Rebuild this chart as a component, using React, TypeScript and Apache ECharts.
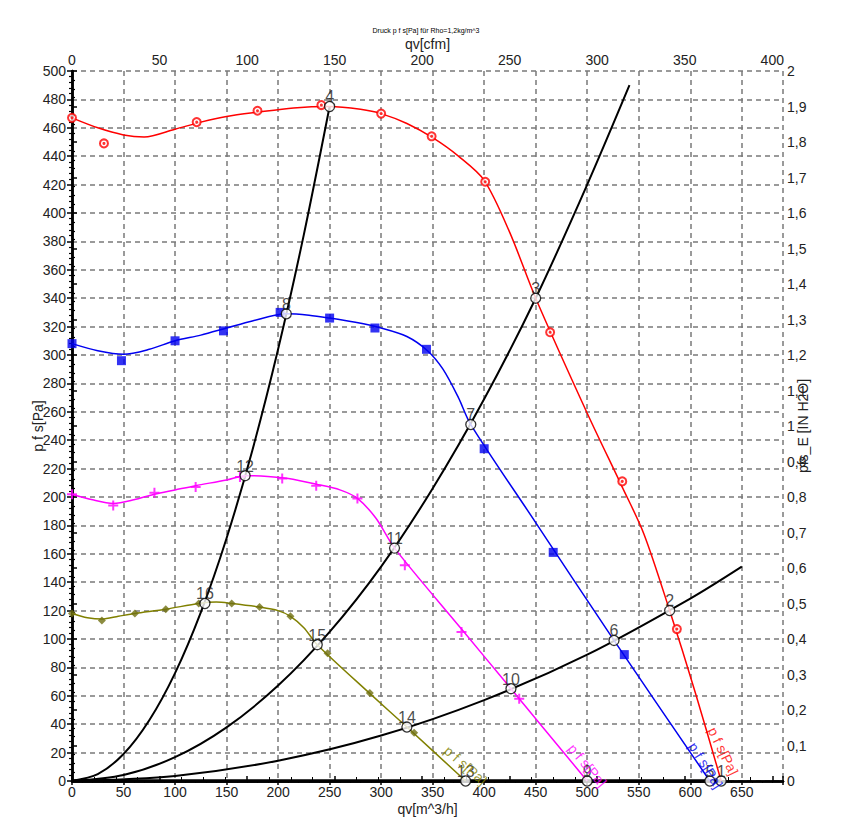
import React, { useEffect, useRef } from "react";
import * as echarts from "echarts";

// ---- data (qv in m^3/h, p f s in Pa) ----
const redCurve = [[0,467],[25,460],[50,455],[70,453.5],[100,459],[125,464],[150,468],[180,471],[215,474],[250,475],[280,473],[300,470],[325,463],[350,453],[375,440],[400,423],[425,386],[450,340],[500,259],[534,207],[555,174],[580,120],[605,62],[630,0]];
const redPoints = [[0,467],[31,449],[121,464],[180,472],[242,476],[300,470],[349,454],[401,422],[464,316],[534,211],[587,107]];

const blueCurve = [[0,308],[25,303],[50,300.5],[75,304],[100,310],[125,314],[150,319],[175,324],[208,329],[230,328],[250,326],[275,323],[300,319],[325,313],[345,303],[360,290],[375,270],[387,251],[450,182],[526,99],[619,0]];
const bluePoints = [[0,308],[48,296],[100,310],[147,317],[202,330],[250,326],[294,319],[344,304],[400,234],[467,161],[536,89]];

const magentaCurve = [[0,202],[20,198],[40,195.5],[60,198],[80,202],[100,205],[120,208],[150,212],[168,215],[190,214.5],[210,213],[237,209],[260,205],[277,199],[295,185],[313,164],[378,107],[426,65],[500,0]];
const magentaPoints = [[0,202],[40,194],[80,203],[120,207],[163,214],[204,213],[237,208],[277,199],[323,152],[378,105],[434,58]];

const oliveCurve = [[0,118],[15,115],[29,114],[45,116],[61,118],[91,121],[123,125],[140,126],[155,125],[182,122.5],[200,120],[212,116],[225,108],[238,96],[290,61],[325,38],[382,0]];
const olivePoints = [[0,118],[29,113],[61,118],[91,121],[123,125],[155,125],[182,122.5],[212,116],[248,90],[289,62],[332,34]];

// system curves
const sysA = [[0,0],[25,4.8],[50,19],[75,42.8],[100,76],[125,118.8],[150,171],[175,232.8],[200,304],[225,384.8],[250,475]];
const sysB = [[0,0],[50,4.2],[100,16.8],[150,37.8],[200,67.2],[250,105],[300,151],[350,206],[400,269],[450,340],[500,420],[541,490]];
const sysC = [[0,0],[100,3.6],[200,14.3],[300,32],[400,57],[500,89],[600,128.5],[650,151]];
const sysD = [[0,0],[630,0]];

// operating points [qv, pfs, label]
const opPoints = [[630,0,"1"],[580,120,"2"],[450,340,"3"],[250,475,"4"],[619,0,"5"],[526,99,"6"],[387,251,"7"],[208,329,"8"],[500,0,"9"],[426,65,"10"],[313,164,"11"],[168,215,"12"],[382,0,"13"],[325,38,"14"],[238,96,"15"],[129,125,"16"]];

const curveLabel = "p f s[Pa]";
const titleText = "Druck p f s[Pa] für Rho=1,2kg/m^3";

const FONT = "Liberation Sans, Arial, sans-serif";

export default function App() {
  const ref = useRef<HTMLDivElement>(null);
  useEffect(() => {
    const chart = echarts.init(ref.current!, null, { renderer: "svg" });
    const gridTop = 71, gridLeft = 72, gridRight = 69, gridBottom = 55;
    const xMax = 690;
    const axisLine = { show: true, lineStyle: { color: "#000", width: 2.5 } };
    const split = { show: true, lineStyle: { color: "#7a7a7a", width: 1.5, type: [5, 4] as any } };
    const lbl = { color: "#222", fontSize: 14, fontFamily: FONT };
    const nameStyle = { color: "#222", fontSize: 14, fontFamily: FONT };

    const lineSeries = (data: number[][], color: string, width = 1.5, z = 3) => ({
      type: "line", data, smooth: 0.3, showSymbol: false, symbol: "none",
      lineStyle: { color, width }, z, silent: true,
    });
    const textSeries = (pt: number[], color: string, rot: number) => ({
      type: "scatter", data: [pt], symbolSize: 1, itemStyle: { color: "rgba(0,0,0,0)" }, z: 6,
      label: { show: true, position: "inside", formatter: curveLabel, rotate: rot, color, fontSize: 14, fontFamily: FONT },
    });

    chart.setOption({
      animation: false,
      backgroundColor: "#fff",
      title: { text: titleText, left: "center", top: 22, textStyle: { fontSize: 7, fontWeight: "normal", color: "#000", fontFamily: FONT } },
      grid: { left: gridLeft, right: gridRight, top: gridTop, bottom: gridBottom },
      xAxis: [
        {
          type: "value", position: "bottom", min: 0, max: xMax, interval: 50,
          name: "qv[m^3/h]", nameLocation: "middle", nameGap: 21, nameMoveOverlap: false,
          nameTextStyle: nameStyle,
          axisLine, axisTick: { show: true, length: 4, lineStyle: { color: "#000", width: 1.5 } },
          minorTick: { show: true, splitNumber: 5, length: 2, lineStyle: { color: "#000", width: 1 } },
          axisLabel: { ...lbl, margin: 4, formatter: (v: number) => (v % 50 === 0 ? String(v) : "") },
          splitLine: split,
        },
        {
          type: "value", position: "top", min: 0, max: xMax / 1.699, interval: 50,
          name: "qv[cfm]", nameLocation: "middle", nameGap: 20, nameMoveOverlap: false,
          nameTextStyle: nameStyle,
          axisLine, axisTick: { show: true, length: 5, lineStyle: { color: "#000", width: 1.5 } },
          minorTick: { show: true, splitNumber: 4, length: 4, lineStyle: { color: "#000", width: 1 } },
          axisLabel: { ...lbl, margin: 4, formatter: (v: number) => (v % 50 === 0 ? String(v) : "") },
          splitLine: { show: false },
        },
      ],
      yAxis: [
        {
          type: "value", position: "left", min: 0, max: 500, interval: 20,
          name: "p f s[Pa]", nameLocation: "middle", nameGap: 27, nameRotate: 90, nameMoveOverlap: false,
          nameTextStyle: nameStyle,
          axisLine, axisTick: { show: true, length: 5, lineStyle: { color: "#000", width: 1.5 } },
          minorTick: { show: true, splitNumber: 5, length: 3, lineStyle: { color: "#000", width: 1.2 } },
          axisLabel: { ...lbl, margin: 6 },
          splitLine: split,
        },
        {
          type: "value", position: "right", min: 0, max: 2, interval: 0.1,
          name: "pfs_E [IN H2O]", nameLocation: "middle", nameGap: 13, nameRotate: 90, nameMoveOverlap: false,
          nameTextStyle: nameStyle,
          axisLine, axisTick: { show: true, length: 5, lineStyle: { color: "#000", width: 1.5 } },
          minorTick: { show: true, splitNumber: 4, length: 3, lineStyle: { color: "#000", width: 1.2 } },
          axisLabel: { ...lbl, margin: 4, formatter: (v: number) => String(Math.round(v * 10) / 10).replace(".", ",") },
          splitLine: { show: false },
        },
      ],
      series: [
        lineSeries(sysA, "#000", 2, 2),
        lineSeries(sysB, "#000", 2, 2),
        lineSeries(sysC, "#000", 2, 2),
        { ...lineSeries(sysD, "#000", 3.5, 2), smooth: false },
        lineSeries(redCurve, "#ff0000"),
        lineSeries(blueCurve, "#0000f0"),
        lineSeries(magentaCurve, "#ff00ff"),
        lineSeries(oliveCurve, "#808000"),
        { type: "scatter", data: redPoints, symbol: "emptyCircle", symbolSize: 8, itemStyle: { color: "#ff0000", borderColor: "#ff0000", borderWidth: 1.5 }, z: 4 },
        { type: "scatter", data: redPoints, symbol: "circle", symbolSize: 3, itemStyle: { color: "#ff0000" }, z: 4 },
        { type: "scatter", data: bluePoints, symbol: "rect", symbolSize: 9, itemStyle: { color: "#0000f0" }, z: 4 },
        { type: "scatter", data: magentaPoints, symbol: "path://M4,0h2v10h-2zM0,4h10v2h-10z", symbolSize: 10, itemStyle: { color: "#ff00ff" }, z: 4 },
        { type: "scatter", data: olivePoints, symbol: "diamond", symbolSize: 8, itemStyle: { color: "#6f6f10" }, z: 4 },
        {
          type: "scatter", data: opPoints, symbol: "circle", symbolSize: 10, z: 5,
          itemStyle: { color: "#fff", borderColor: "#000", borderWidth: 1.3 },
          label: { show: true, position: "top", distance: -4, formatter: (p: any) => p.data[2], color: "#1a1a1a", fontSize: 16, fontFamily: FONT },
        },
        textSeries([632, 21], "#ff0000", -64),
        textSeries([615, 11], "#0000f0", -58),
        textSeries([500, 11], "#ff00ff", -50),
        textSeries([382, 11], "#808000", -41),
      ],
    });
    return () => chart.dispose();
  }, []);
  return <div ref={ref} style={{ position: "fixed", left: 0, top: 0, width: 852, height: 836, background: "#fff" }} />;
}
